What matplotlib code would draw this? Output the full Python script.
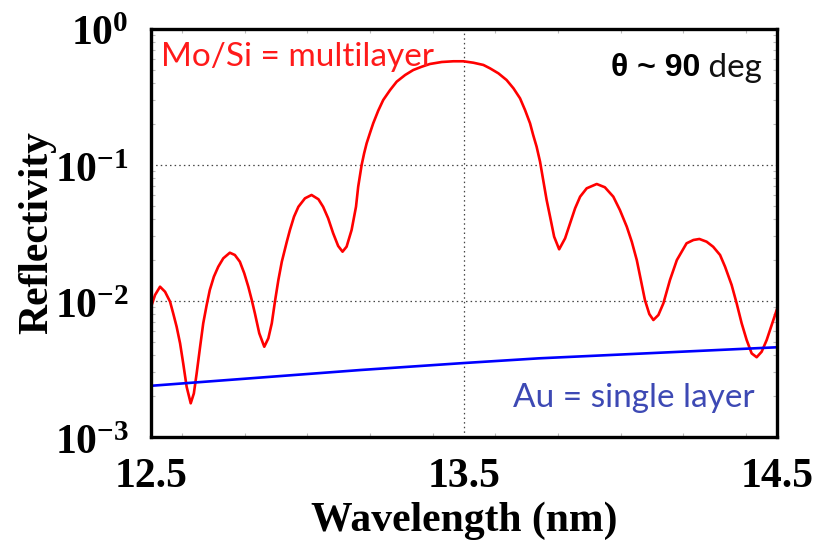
import matplotlib
matplotlib.use('Agg')
import matplotlib.pyplot as plt
from matplotlib.ticker import FixedLocator, FixedFormatter, MultipleLocator, LogLocator, NullFormatter

# Mo/Si multilayer reflectivity
mosi_wl = [12.500, 12.513, 12.529, 12.545, 12.561, 12.571, 12.582, 12.593, 12.603, 12.614,
           12.627, 12.637, 12.646, 12.657, 12.667, 12.678, 12.688, 12.701, 12.715, 12.731,
           12.752, 12.768, 12.784, 12.798, 12.811, 12.822, 12.832, 12.846, 12.862, 12.875,
           12.886, 12.896, 12.907, 12.918, 12.934, 12.944, 12.957, 12.971, 12.992, 13.013,
           13.035, 13.050, 13.066, 13.082, 13.098, 13.112, 13.125, 13.141, 13.155, 13.162,
           13.173, 13.181, 13.189, 13.200, 13.210, 13.226, 13.242, 13.264, 13.285, 13.312,
           13.338, 13.365, 13.391, 13.429, 13.466, 13.498, 13.530, 13.562, 13.583, 13.610,
           13.636, 13.658, 13.679, 13.695, 13.711, 13.721, 13.732, 13.743, 13.753, 13.764,
           13.775, 13.788, 13.804, 13.823, 13.839, 13.855, 13.871, 13.892, 13.924, 13.950,
           13.977, 13.998, 14.020, 14.036, 14.052, 14.065, 14.078, 14.092, 14.105, 14.121,
           14.137, 14.158, 14.180, 14.211, 14.233, 14.252, 14.275, 14.296, 14.318, 14.334,
           14.355, 14.371, 14.387, 14.403, 14.419, 14.435, 14.451, 14.467, 14.483, 14.499]
mosi_refl = [0.00900, 0.01107, 0.01274, 0.01170, 0.00989, 0.00812, 0.00647, 0.00489, 0.00348, 0.00234,
             0.00177, 0.00209, 0.00294, 0.00461, 0.00686, 0.00935, 0.01205, 0.01510, 0.01787, 0.0206,
             0.02265, 0.0218, 0.01945, 0.0160, 0.01274, 0.01017, 0.00812, 0.00579, 0.00461, 0.00532,
             0.00686, 0.00989, 0.01427, 0.01945, 0.0273, 0.0333, 0.0417, 0.0493, 0.0569, 0.0602,
             0.0560, 0.0493, 0.0406, 0.0315, 0.0254, 0.02305, 0.0251, 0.0333, 0.0493, 0.0692,
             0.100, 0.1219, 0.1444, 0.1728, 0.2026, 0.2508, 0.3007, 0.356, 0.410, 0.459,
             0.4995, 0.528, 0.553, 0.572, 0.579, 0.579, 0.565, 0.544, 0.514, 0.472,
             0.4217, 0.3664, 0.3093, 0.2537, 0.2026, 0.1662, 0.1363, 0.1057, 0.0776, 0.0553,
             0.0417, 0.0297, 0.0240, 0.0289, 0.0373, 0.0481, 0.0585, 0.0674, 0.0725, 0.0686,
             0.0585, 0.0467, 0.0352, 0.0273, 0.0200, 0.01427, 0.01017, 0.00802, 0.00725, 0.00789,
             0.00962, 0.01427, 0.0200, 0.02656, 0.0281, 0.02858, 0.0273, 0.02506, 0.0218, 0.01787,
             0.01312, 0.00962, 0.00686, 0.00517, 0.00412, 0.00386, 0.00424, 0.00517, 0.00667, 0.00859]

# Au single layer
au_wl = [12.50, 13.17, 13.50, 13.74, 14.50]
au_refl = [0.00238, 0.00311, 0.00350, 0.00379, 0.00457]

x_ticks = [12.5, 13.5, 14.5]
x_ticklabels = ['12.5', '13.5', '14.5']
y_ticks = [1e-3, 1e-2, 1e-1, 1e0]
y_ticklabels = [r'$\mathbf{10^{-3}}$', r'$\mathbf{10^{-2}}$', r'$\mathbf{10^{-1}}$', r'$\mathbf{10^{0}}$']

plt.rcParams['mathtext.fontset'] = 'custom'
plt.rcParams['mathtext.rm'] = 'Liberation Serif:bold'
plt.rcParams['mathtext.bf'] = 'Liberation Serif:bold'

fig = plt.figure(figsize=(8.29, 5.41), dpi=100)
ax = fig.add_axes([0.1821, 0.1922, 0.7552, 0.7542])

ax.plot(mosi_wl, mosi_refl, color='#ff0000', lw=1.9, solid_joinstyle='round')
ax.plot(au_wl, au_refl, color='#0000ff', lw=1.9)

ax.set_yscale('log')
ax.set_xlim(12.5, 14.5)
ax.set_ylim(1e-3, 1e0)

ax.xaxis.set_major_locator(FixedLocator(x_ticks))
ax.xaxis.set_major_formatter(FixedFormatter(x_ticklabels))
ax.yaxis.set_major_locator(FixedLocator(y_ticks))
ax.yaxis.set_major_formatter(FixedFormatter(y_ticklabels))
ax.xaxis.set_minor_locator(MultipleLocator(0.2))
ax.yaxis.set_minor_locator(LogLocator(base=10, subs=range(2, 10)))
ax.yaxis.set_minor_formatter(NullFormatter())

ax.tick_params(which='major', length=0, labelsize=30)
ax.tick_params(axis='x', which='major', pad=15)
ax.tick_params(axis='y', which='major', pad=16)
ax.tick_params(which='minor', direction='in', length=3, width=0.8, color='#bbbbbb',
               top=True, right=True)
for lab in ax.get_xticklabels():
    lab.set_fontfamily('Liberation Serif')
    lab.set_fontweight('bold')

ax.grid(True, which='major', color='#444444', ls=(0, (1.2, 2.5)), lw=0.9)

for s in ax.spines.values():
    s.set_linewidth(2.4)

ax.set_xlabel('Wavelength (nm)', fontsize=30, fontfamily='Liberation Serif', fontweight='bold')
ax.set_ylabel('Reflectivity', fontsize=30, fontfamily='Liberation Serif', fontweight='bold')
ax.xaxis.set_label_coords(0.5, -0.157)
ax.yaxis.set_label_coords(-0.152, 0.5)

ax.text(0.016, 0.931, 'Mo/Si = multilayer', transform=ax.transAxes, color='#ff1a1a',
        fontsize=24, fontfamily='Lato', ha='left', va='center')
ax.text(0.965, 0.095, 'Au = single layer', transform=ax.transAxes, color='#3d49b4',
        fontsize=24, fontfamily='Lato', ha='right', va='center')

t1 = ax.text(0.877, 0.904, 'θ ~ 90', transform=ax.transAxes, color='black',
             fontsize=23, fontfamily='Liberation Sans', fontweight='bold',
             ha='right', va='center')
ax.annotate(' deg', xy=(1, 0), xycoords=t1, fontsize=24, fontfamily='Lato',
            color='#111111', ha='left', va='bottom')

fig.savefig('out.png', dpi=100)
